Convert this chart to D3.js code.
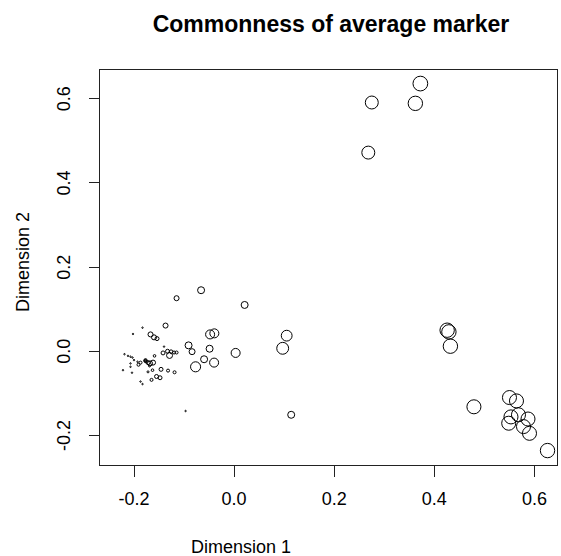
<!DOCTYPE html>
<html>
<head>
<meta charset="utf-8">
<script src="https://cdn.jsdelivr.net/npm/d3@7"></script>
<style>
  html, body { margin: 0; padding: 0; background: #fff; }
  svg { display: block; font-family: "Liberation Sans", Arial, sans-serif; }
</style>
</head>
<body>
<svg id="chart" width="561" height="556"></svg>
<script>
// MDS coordinates of each marker and how common it is (drawn as circle size)
const dim1 = [
  0.373, 0.363, 0.276, 0.269,
  0.4265, 0.430, 0.433, 0.480, 0.551, 0.565, 0.554, 0.569, 0.588, 0.5495, 0.579, 0.591, 0.627,
  0.106, 0.098, 0.115, 0.004, 0.022, -0.065, -0.114,
  -0.047, -0.0385, -0.048, -0.039, -0.059, -0.076, -0.090, -0.083,
  -0.136, -0.128, -0.166, -0.159, -0.153, -0.141, -0.132, -0.125, -0.119, -0.114,
  -0.145, -0.131, -0.118, -0.154, -0.147, -0.164, -0.167, -0.161, -0.171,
  -0.176, -0.175, -0.177, -0.186, -0.190, -0.162, -0.171, -0.168, -0.158,
  -0.182, -0.201, -0.139, -0.218, -0.211, -0.206, -0.202, -0.199, -0.192,
  -0.206, -0.206, -0.221, -0.203, -0.186, -0.182, -0.096
];
const dim2 = [
  0.635, 0.588, 0.590, 0.471,
  0.049, 0.045, 0.011, -0.133, -0.111, -0.119, -0.157, -0.152, -0.162, -0.172, -0.180, -0.196, -0.237,
  0.036, 0.006, -0.152, -0.005, 0.109, 0.144, 0.125,
  0.039, 0.0415, 0.005, -0.028, -0.020, -0.038, 0.013, -0.002,
  0.060, -0.011, 0.039, 0.032, 0.029, -0.005, -0.001, -0.002, -0.004, -0.004,
  -0.044, -0.047, -0.051, -0.061, -0.064, -0.069, -0.030, -0.028, -0.028,
  -0.022, -0.025, -0.024, -0.028, -0.033, -0.046, -0.050, -0.036, -0.012,
  0.055, 0.040, 0.010, -0.008, -0.012, -0.014, -0.016, -0.022, -0.026,
  -0.030, -0.038, -0.046, -0.052, -0.073, -0.079, -0.143
];
const commonness = [
  2.05, 2.0, 1.8, 1.8,
  2.0, 2.0, 2.0, 1.95, 1.95, 1.95, 1.95, 1.95, 1.95, 1.95, 1.95, 1.95, 2.0,
  1.5, 1.65, 0.97, 1.25, 0.97, 0.97, 0.7,
  1.25, 1.25, 0.97, 1.25, 0.97, 1.4, 0.97, 0.83,
  0.7, 0.83, 0.7, 0.7, 0.55, 0.55, 0.55, 0.5, 0.42, 0.42,
  0.55, 0.42, 0.42, 0.55, 0.55, 0.42, 0.7, 0.7, 0.55,
  0.42, 0.42, 0.36, 0.42, 0.42, 0.36, 0.28, 0.28, 0.36,
  0.2, 0.2, 0.2, 0.2, 0.2, 0.2, 0.2, 0.2, 0.2,
  0.2, 0.2, 0.2, 0.2, 0.2, 0.2, 0.2
];
const xTicks = [-0.2, 0.0, 0.2, 0.4, 0.6];
const yTicks = [-0.2, 0.0, 0.2, 0.4, 0.6];

const points = dim1.map((d, i) => ({ x: d, y: dim2[i], c: commonness[i] }));

// tick labels use a plain hyphen for negatives
const fmt = d3.formatLocale({ decimal: ".", thousands: ",", grouping: [3], currency: ["", ""], minus: "-" }).format(".1f");

const svg = d3.select("#chart");
const plot = { left: 99.5, right: 557.5, top: 69.5, bottom: 465.5 };

const x = d3.scaleLinear().domain([-0.2, 0.6]).range([133.5, 534]);
const y = d3.scaleLinear().domain([-0.2, 0.6]).range([435, 98.3]);
const r = d3.scaleLinear().domain([0, 1]).range([0, 3.6]);

// plot frame
svg.append("rect")
  .attr("x", plot.left).attr("y", plot.top)
  .attr("width", plot.right - plot.left).attr("height", plot.bottom - plot.top)
  .attr("fill", "none").attr("stroke", "#222").attr("stroke-width", 1);

// x axis
const xAxis = d3.axisBottom(x).tickValues(xTicks).tickFormat(fmt)
  .tickSize(11).tickPadding(16);
const gx = svg.append("g").attr("transform", `translate(0,${plot.bottom})`).call(xAxis);
gx.select(".domain").remove();
gx.selectAll(".tick line").attr("stroke", "#222").attr("shape-rendering", "crispEdges");
gx.selectAll(".tick text").attr("font-size", 18).attr("fill", "#000")
  .attr("font-family", "Liberation Sans, Arial, sans-serif");

// y axis with rotated labels
const yAxis = d3.axisLeft(y).tickValues(yTicks).tickFormat(fmt)
  .tickSize(11).tickPadding(0);
const gy = svg.append("g").attr("transform", `translate(${plot.left},0)`).call(yAxis);
gy.select(".domain").remove();
gy.selectAll(".tick line").attr("stroke", "#222").attr("shape-rendering", "crispEdges");
gy.selectAll(".tick text")
  .attr("font-size", 18).attr("fill", "#000")
  .attr("font-family", "Liberation Sans, Arial, sans-serif")
  .attr("x", null).attr("dy", null)
  .attr("text-anchor", "middle")
  .attr("transform", "translate(-29.5,0) rotate(-90)");

// markers
svg.append("g").selectAll("circle").data(points).join("circle")
  .attr("cx", d => x(d.x)).attr("cy", d => y(d.y))
  .attr("r", d => r(d.c))
  .attr("fill", "none").attr("stroke", "#000").attr("stroke-width", 1);

// titles
svg.append("text").attr("x", 331).attr("y", 31.5).attr("text-anchor", "middle")
  .attr("font-size", 23).attr("font-weight", "bold").text("Commonness of average marker");
svg.append("text").attr("x", 241).attr("y", 553).attr("text-anchor", "middle")
  .attr("font-size", 18).text("Dimension 1");
svg.append("text").attr("transform", "translate(29,262) rotate(-90)").attr("text-anchor", "middle")
  .attr("font-size", 18).text("Dimension 2");
</script>
</body>
</html>
